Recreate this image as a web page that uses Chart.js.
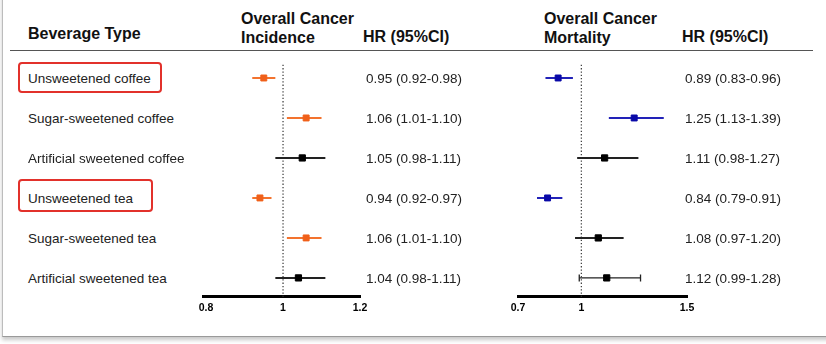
<!DOCTYPE html>
<html>
<head>
<meta charset="utf-8">
<script src="https://cdn.jsdelivr.net/npm/chart.js@4.4.1/dist/chart.umd.min.js"></script>
<style>
  html, body { margin:0; padding:0; background:#fff; }
  body { width:826px; height:344px; position:relative; overflow:hidden; font-family:'Liberation Sans', Arial, sans-serif; }
  .card { position:absolute; left:2px; top:-6px; width:840px; height:342px; border-left:1.5px solid #bcbcbc; border-bottom:1px solid #9a9a9a; box-shadow:0 3px 4px rgba(0,0,0,0.22); background:#fff; }
  .hdr { position:absolute; font-weight:bold; font-size:16px; color:#111; line-height:19px; white-space:nowrap; }
  .rule { position:absolute; left:10px; top:50px; width:803px; height:0; border-top:1.5px solid #555; }
  .lbl { position:absolute; font-size:13.5px; color:#222; white-space:nowrap; transform:translateY(-50%); }
  .box { position:absolute; border:2px solid #e2312b; border-radius:4px; box-sizing:border-box; }
  canvas { position:absolute; }
</style>
</head>
<body>
<div class="card"></div>
<div class="hdr" style="left:28px; top:24px;">Beverage Type</div>
<div class="hdr" style="left:241px; top:9px;">Overall Cancer<br>Incidence</div>
<div class="hdr" style="left:363px; top:27px;">HR (95%CI)</div>
<div class="hdr" style="left:544px; top:9px;">Overall Cancer<br>Mortality</div>
<div class="hdr" style="left:682px; top:27px;">HR (95%CI)</div>
<div class="rule"></div>
<div class="box" style="left:18px; top:62px; width:144px; height:31px;"></div>
<div class="box" style="left:18px; top:179px; width:135px; height:33px;"></div>
<canvas id="c1" width="197" height="290" style="left:183px; top:40px;"></canvas>
<canvas id="c2" width="209" height="290" style="left:498px; top:40px;"></canvas>
<script>
// ---------- data ----------
const categories = ['Unsweetened coffee','Sugar-sweetened coffee','Artificial sweetened coffee','Unsweetened tea','Sugar-sweetened tea','Artificial sweetened tea'];

const incHR = [0.95, 1.06, 1.05, 0.94, 1.06, 1.04];
const incLo = [0.92, 1.01, 0.98, 0.92, 1.01, 0.98];
const incHi = [0.98, 1.10, 1.11, 0.97, 1.10, 1.11];
const incTicks = [0.8, 1, 1.2];

const morHR = [0.89, 1.25, 1.11, 0.84, 1.08, 1.12];
const morLo = [0.83, 1.13, 0.98, 0.79, 0.97, 0.99];
const morHi = [0.96, 1.39, 1.27, 0.91, 1.20, 1.28];
const morTicks = [0.7, 1, 1.5];

// ---------- styles ----------
const ORANGE = '#f0601a', ORANGE_LINE = '#f3732e';
const BLUE = '#0a0aa8', BLUE_LINE = '#2222b8';
const BLACK = '#000000', BLACK_LINE = '#222222';
const incColors = ['o','o','k','o','o','k'];
const morColors = ['b','b','k','b','k','k'];
const morCaps = [false,false,false,false,false,true];
const palette = { o:[ORANGE, ORANGE_LINE], b:[BLUE, BLUE_LINE], k:[BLACK, BLACK_LINE] };

function buildChart(id, hr, lo, hi, ticks, colors, caps, xmin, xmax) {
  const ds = [];
  hr.forEach((v, i) => {
    const [pc] = palette[colors[i]];
    ds.push({ type:'scatter', data:[{x:v, y:i+0.5}], pointStyle:'rect', pointRadius: colors[i]==='k'?4.4:4.2,
      backgroundColor:pc, borderColor:pc, borderWidth:1, order:1 });
  });
  hr.forEach((v, i) => {
    const [, lc] = palette[colors[i]];
    const cap = caps && caps[i];
    ds.push({ type:'scatter', showLine:true, data:[{x:lo[i], y:i+0.5},{x:hi[i], y:i+0.5}],
      borderColor:lc, backgroundColor:lc, borderWidth: cap ? 1.3 : 2,
      pointStyle:'line', rotation:90, pointRadius: cap ? 3.5 : 0, pointBorderWidth:1.3, order:2 });
  });
  ds.push({ type:'scatter', showLine:true, data:[{x:1, y:0.17},{x:1, y:5.97}], borderColor:'#444',
    borderWidth:1.3, borderDash:[1.3,2], pointRadius:0, order:3 });

  return new Chart(document.getElementById(id), {
    type:'scatter',
    data:{ datasets: ds },
    options:{
      responsive:false, animation:false, devicePixelRatio:1,
      layout:{ padding:{ left:20, right:20, top:18, bottom:0 } },
      plugins:{ legend:{display:false}, tooltip:{enabled:false} },
      scales:{
        x:{ type:'linear', min:xmin, max:xmax, position:'bottom',
          grid:{ display:false, drawTicks:false },
          border:{ display:true, color:'#000', width:3 },
          afterBuildTicks: s => { s.ticks = ticks.map(v => ({value:v})); },
          afterFit: s => { s.height = 33.3; },
          ticks:{ padding:5, color:'#000', font:{ family:"'Liberation Sans', Arial", size:10.5, weight:'bold' },
            autoSkip:false, maxRotation:0, callback: v => String(v) } },
        y:{ type:'linear', min:0, max:5.97, reverse:true, display:false }
      }
    }
  });
}

const ch1 = buildChart('c1', incHR, incLo, incHi, incTicks, incColors, null, 0.792, 1.2);
const ch2 = buildChart('c2', morHR, morLo, morHi, morTicks, morColors, morCaps, 0.7, 1.5);

function fmt(h, l, u) { return h.toFixed(2) + ' (' + l.toFixed(2) + '-' + u.toFixed(2) + ')'; }
function addLabel(text, x, y) {
  const d = document.createElement('div');
  d.className = 'lbl'; d.textContent = text;
  d.style.left = x + 'px'; d.style.top = y + 'px';
  document.body.appendChild(d);
}
const top1 = 40;
categories.forEach((c, i) => {
  const y = top1 + ch1.scales.y.getPixelForValue(i + 0.5);
  addLabel(c, 28, y);
  addLabel(fmt(incHR[i], incLo[i], incHi[i]), 366, y);
  addLabel(fmt(morHR[i], morLo[i], morHi[i]), 685, y);
});
</script>
</body>
</html>
